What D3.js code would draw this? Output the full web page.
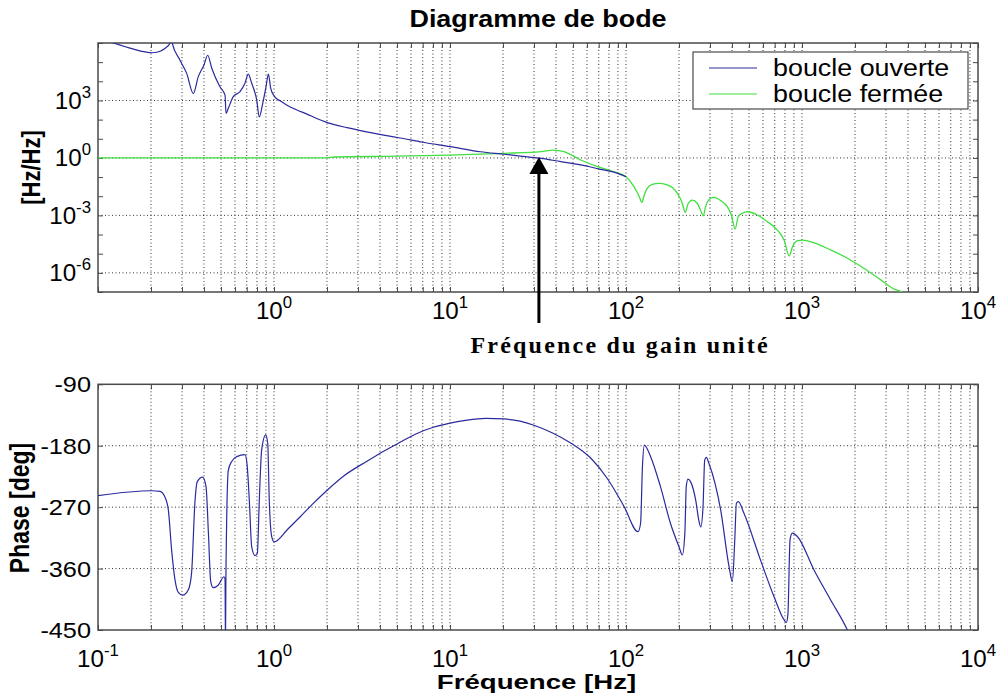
<!DOCTYPE html>
<html><head><meta charset="utf-8">
<script src="https://cdn.jsdelivr.net/npm/d3@7/dist/d3.min.js"></script>
<style>body{margin:0;background:#fff}svg{display:block}</style>
</head><body><div id="chart"></div>
<script>
// ---------- data ----------
const title = "Diagramme de bode";
const seriesNames = ["boucle ouverte", "boucle fermée"];

// open loop magnitude (boucle ouverte)
const openFreq = [0.1,0.122,0.15,0.175,0.202,0.219,0.24,0.257,0.26,0.264,0.292,0.319,0.348,0.371,0.40,0.42,0.443,0.493,0.527,0.534,0.55,0.587,0.641,0.684,0.714,0.747,0.797,0.825,0.863,0.901,0.929,0.958,1.01,1.1,1.18,1.35,1.53,1.75,2.03,2.6,3.36,4.2,5.2,7,10,14.9,20.3,25,32.9,42,55.3,70,85.5,100];
const openMag  = [1.8e6,1.0e6,5.6e5,3.8e5,3.1e5,3.4e5,5.2e5,1.0e6,3.0e6,1.0e6,1.3e5,2.6e4,2.3e3,1.7e4,7.1e4,2.3e5,4.8e4,5.2e3,1.9e3,2.1e2,3.9e2,1.6e3,2.9e3,7.9e3,2.4e4,7.9e3,1.1e3,1.4e2,7.1e2,5.2e3,2.4e4,4.3e3,1.55e3,8.8e2,5.8e2,3.2e2,2.0e2,1.15e2,68,38,23,15.5,11,6.6,3.9,2.1,1.55,1.25,0.95,0.66,0.43,0.27,0.18,0.105];

// closed loop magnitude (boucle fermée)
const closedFreq = [0.1,2.0,2.2,5,10,14.9,20.3,32.9,38.9,44.4,55.3,68.9,85.5,100,111,119,123,127,132,141,154,168,184,196,209,217,225,238,254,265,275,283,303,316,345,377,397,417,434,459,489,558,636,725,792,846,883,943,1006,1172,1458,1813,2254,2805,3340,3648,3800];
const closedMag  = [1,1,1.12,1.23,1.41,1.58,1.74,2.14,2.57,2.14,0.78,0.35,0.19,0.105,0.032,9.5e-3,4.8e-3,0.0115,0.026,0.042,0.047,0.042,0.028,0.014,4.3e-3,1.45e-3,3.9e-3,6.3e-3,4.3e-3,1.9e-3,9.5e-4,2.8e-3,7.8e-3,8.7e-3,5.9e-3,2.8e-3,1.05e-3,1.95e-4,8.5e-4,1.3e-3,1.55e-3,1.05e-3,4.7e-4,1.7e-4,5.1e-5,7.6e-6,2.3e-5,4.8e-5,5.1e-5,3.7e-5,1.55e-5,5.8e-6,1.7e-6,4.3e-7,1.4e-7,1.05e-7,8e-8];

// phase (open loop)
const phaseFreq = [0.1,0.202,0.225,0.24,0.251,0.262,0.274,0.286,0.303,0.326,0.34,0.356,0.366,0.393,0.411,0.424,0.437,0.452,0.483,0.52,0.527,0.53,0.533,0.55,0.575,0.614,0.684,0.705,0.724,0.747,0.78,0.804,0.825,0.851,0.897,0.921,0.94,0.97,1.0,1.2,1.41,1.65,1.99,2.5,3.36,4.2,5.2,6.5,8.05,10,12.5,16,20.3,25,30,38,48.5,63,78.3,97.5,117,121,124,127,138,157,179,200,209,216,220,225,233,249,260,266,274,280,286,296,345,385,402,415,424,435,468,582,693,790,815,832,855,881,941,1170,1455,1811,1900];
const phaseDeg  = [-253,-246,-247,-255,-274,-333,-377,-395,-399,-391,-367,-260,-233,-226,-240,-308,-379,-388,-384,-372,-375,-470,-372,-216,-203,-196,-193,-211,-260,-328,-341,-338,-260,-186,-164,-176,-260,-313,-321,-302,-284,-266,-246,-224,-203,-188,-175,-162,-153,-147,-142.5,-140,-140.8,-144,-150,-161,-176,-198,-228,-269,-306,-294,-211,-179,-196,-240,-294,-328,-340,-308,-240,-229,-233,-260,-291,-299,-269,-201,-197,-206,-274,-357,-379,-318,-264,-262,-279,-348,-401,-435,-439,-426,-318,-308,-313,-362,-406,-450,-462];

// axes & ticks
const xDecades = [0.1, 1, 10, 100, 1000, 10000];
const xDecadeExp = ["-1","0","1","2","3","4"];
const magTicks = [1e3, 1, 1e-3, 1e-6];
const magTickExp = ["3","0","-3","-6"];
const phaseTicks = [-90, -180, -270, -360, -450];
const unityGainFreq = 32;

// ---------- layout ----------
const W = 999, H = 700;
const L = 98, R = 978;
const top1 = 43, bot1 = 292, top2 = 384.3, bot2 = 630;
const BLUE = "#2a2a9e", GREEN = "#3fe03f", FRAME = "#4a4a4a";
const SANS = "Arial, 'Liberation Sans', Helvetica, sans-serif";

const svg = d3.select("#chart").append("svg").attr("width", W).attr("height", H);
svg.append("rect").attr("width", W).attr("height", H).attr("fill", "#fff");

const x = d3.scaleLog().domain([0.1, 1e4]).range([L, R]);
const yMag = d3.scaleLog().domain([1e-7, 1e6]).range([bot1, top1]);
const yPh = d3.scaleLinear().domain([-450, -90]).range([bot2, top2]);

// minor tick values
const xMinor = [];
xDecades.slice(0, -1).forEach(d => { for (let m = 1; m <= 9; m++) xMinor.push(d * m); });
xMinor.push(1e4);
const magMinor = [];
for (let e = -7; e <= 6; e++) magMinor.push(Math.pow(10, e));

const defs = svg.append("defs");
defs.append("clipPath").attr("id", "c1").append("rect").attr("x", L).attr("y", top1).attr("width", R - L).attr("height", bot1 - top1);
defs.append("clipPath").attr("id", "c2").append("rect").attr("x", L).attr("y", top2).attr("width", R - L).attr("height", bot2 - top2);

function stext(parent, px, py, str, o) {
  const g = parent.append("g").attr("transform", `translate(${px},${py}) scale(${o.sx || 1},1)${o.rot ? " rotate(" + o.rot + ")" : ""}`);
  const t = g.append("text").attr("x", 0).attr("y", 0)
    .attr("text-anchor", o.anchor || "start")
    .attr("font-family", o.family || SANS)
    .attr("font-size", o.size)
    .attr("font-weight", o.weight || "normal")
    .attr("letter-spacing", o.ls || 0)
    .attr("fill", "#000").text(str);
  return t;
}
function powText(parent, px, py, exp, anchor, sx) {
  const g = parent.append("g").attr("transform", `translate(${px},${py}) scale(${sx},1)`);
  const t = g.append("text").attr("text-anchor", anchor).attr("font-family", SANS).attr("font-size", 23).attr("fill", "#000");
  t.append("tspan").text("10");
  t.append("tspan").attr("dy", -11).attr("font-size", 16).text(exp);
}

function grid(yScale, yTop, yBot, hVals) {
  const g = svg.append("g");
  g.selectAll("line.v").data(xMinor.filter(v => v > 0.1 && v < 1e4)).join("line")
    .attr("x1", d => x(d)).attr("x2", d => x(d)).attr("y1", yTop).attr("y2", yBot)
    .attr("stroke", "#000").attr("stroke-width", 1).attr("stroke-dasharray", "1,2.5").attr("opacity", 0.8);
  g.selectAll("line.h").data(hVals).join("line")
    .attr("x1", L).attr("x2", R).attr("y1", d => yScale(d)).attr("y2", d => yScale(d))
    .attr("stroke", "#000").attr("stroke-width", 1).attr("stroke-dasharray", "1,2.5").attr("opacity", 0.8);
}
grid(yMag, top1, bot1, magTicks);
grid(yPh, top2, bot2, phaseTicks.filter(v => v > -450 && v < -90));

// ticks via axes
function addAxes(yScale, yTicks, yTop, yBot) {
  const tk = 5;
  svg.append("g").attr("transform", `translate(0,${yBot})`)
    .call(d3.axisBottom(x).tickValues(xMinor).tickSize(-tk).tickFormat(""))
    .call(g => g.select(".domain").remove()).selectAll("line").attr("stroke", FRAME);
  svg.append("g").attr("transform", `translate(0,${yTop})`)
    .call(d3.axisTop(x).tickValues(xMinor).tickSize(-tk).tickFormat(""))
    .call(g => g.select(".domain").remove()).selectAll("line").attr("stroke", FRAME);
  svg.append("g").attr("transform", `translate(${L},0)`)
    .call(d3.axisLeft(yScale).tickValues(yTicks).tickSize(-tk).tickFormat(""))
    .call(g => g.select(".domain").remove()).selectAll("line").attr("stroke", FRAME);
  svg.append("g").attr("transform", `translate(${R},0)`)
    .call(d3.axisRight(yScale).tickValues(yTicks).tickSize(-tk).tickFormat(""))
    .call(g => g.select(".domain").remove()).selectAll("line").attr("stroke", FRAME);
  svg.append("rect").attr("x", L).attr("y", yTop).attr("width", R - L).attr("height", yBot - yTop)
    .attr("fill", "none").attr("stroke", FRAME).attr("stroke-width", 1.5);
}
addAxes(yMag, magMinor, top1, bot1);
addAxes(yPh, phaseTicks, top2, bot2);

// ---------- curves ----------
const lineMag = d3.line().x(d => x(d[0])).y(d => yMag(d[1])).curve(d3.curveMonotoneX);
const linePh = d3.line().x(d => x(d[0])).y(d => yPh(d[1])).curve(d3.curveMonotoneX);
const g1 = svg.append("g").attr("clip-path", "url(#c1)");
g1.append("path").datum(closedFreq.map((f, i) => [f, closedMag[i]])).attr("d", lineMag)
  .attr("fill", "none").attr("stroke", GREEN).attr("stroke-width", 1.3);
g1.append("path").datum(openFreq.map((f, i) => [f, openMag[i]])).attr("d", lineMag)
  .attr("fill", "none").attr("stroke", BLUE).attr("stroke-width", 1.2);
const g2 = svg.append("g").attr("clip-path", "url(#c2)");
g2.append("path").datum(phaseFreq.map((f, i) => [f, phaseDeg[i]])).attr("d", linePh)
  .attr("fill", "none").attr("stroke", BLUE).attr("stroke-width", 1.2);

// ---------- tick labels ----------
xDecades.forEach((d, i) => {
  if (i > 0) powText(svg, x(d), 318.5, xDecadeExp[i], "middle", 1.05);
  powText(svg, x(d), 666.5, xDecadeExp[i], "middle", 1.05);
});
magTicks.forEach((d, i) => powText(svg, 91, yMag(d) + 8.3, magTickExp[i], "end", 1.05));
phaseTicks.forEach(d => stext(svg, 91, yPh(d) + 8, String(d), {size: 22, anchor: "end", sx: 1.15}));

// ---------- titles ----------
stext(svg, 538, 27, title, {size: 23, weight: "bold", anchor: "middle", sx: 1.17});
stext(svg, 40, 167.5, "[Hz/Hz]", {size: 22, weight: "bold", anchor: "middle", rot: -90, sx: 1.2});
stext(svg, 29, 508, "Phase [deg]", {size: 23, weight: "bold", anchor: "middle", rot: -90, sx: 1.2});
stext(svg, 536.5, 689, "Fréquence [Hz]", {size: 20, weight: "bold", anchor: "middle", sx: 1.38});
stext(svg, 470.5, 353, "Fréquence du gain unité", {size: 24, weight: "bold", family: "'Liberation Serif', 'Times New Roman', serif", ls: 2.2});

// ---------- arrow (unity gain) ----------
const ax = x(unityGainFreq), tipY = yMag(1);
svg.append("line").attr("x1", ax).attr("x2", ax).attr("y1", tipY + 14).attr("y2", 323)
  .attr("stroke", "#000").attr("stroke-width", 3);
svg.append("path").attr("d", `M${ax},${tipY - 1} L${ax - 9.5},${tipY + 16} L${ax + 9.5},${tipY + 16} Z`).attr("fill", "#000");

// ---------- legend ----------
const lg = svg.append("g");
lg.append("rect").attr("x", 693).attr("y", 52).attr("width", 275).attr("height", 57)
  .attr("fill", "#fff").attr("stroke", FRAME).attr("stroke-width", 1.2);
[BLUE, GREEN].forEach((c, i) => {
  lg.append("line").attr("x1", 709).attr("x2", 757).attr("y1", 68 + i * 26).attr("y2", 68 + i * 26)
    .attr("stroke", c).attr("stroke-width", 1.2);
  stext(lg, 773, 76 + i * 26, seriesNames[i], {size: 24, sx: 1.12});
});
</script></body></html>
